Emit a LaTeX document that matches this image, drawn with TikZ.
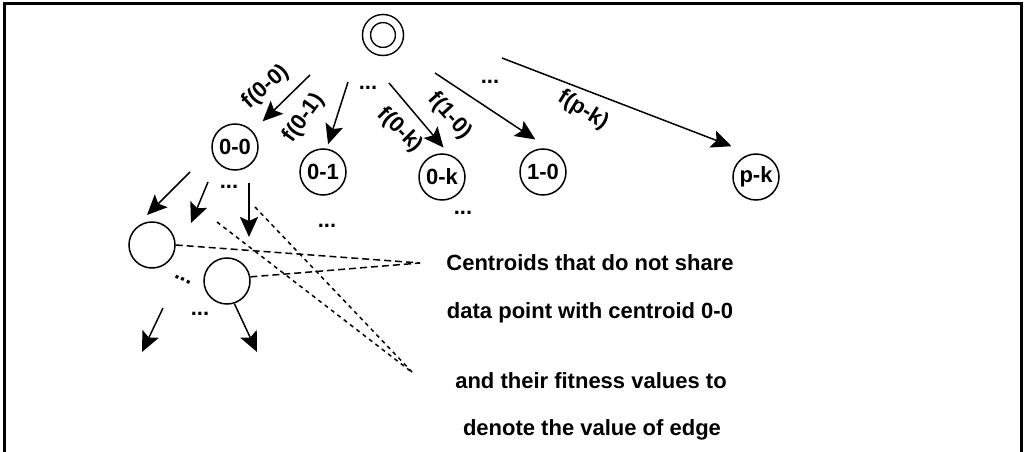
\documentclass[tikz,border=0pt]{standalone}
\usepackage{fontspec}
\setmainfont{Liberation Sans}
\usetikzlibrary{arrows.meta,calc}
\usetikzlibrary{positioning}

\begin{document}
\begin{tikzpicture}[
    x=1pt, y=-1pt,
    font=\fontsize{22}{26}\selectfont\bfseries,
    centroide/.style={draw=black, circle, line width=1.5pt,
                      inner sep=0pt, minimum size=46pt},
    seta/.style={-{Stealth[length=20pt, width=18pt, inset=4pt]}, line width=1.5pt},
    rotulo/.style={inner sep=0pt, font=\fontsize{22}{26}\selectfont\bfseries},
    reticencias/.style={inner sep=0pt, anchor=base},
    tracejado/.style={line width=1.5pt, dash pattern=on 7pt off 4pt},
    pontilhado/.style={line width=1.5pt, dash pattern=on 4pt off 4pt},
    texto/.style={inner sep=0pt, anchor=base, font=\fontsize{22}{26}\selectfont\bfseries}
  ]

  \useasboundingbox (0,0) rectangle (1026,452);

  % ── moldura ──────────────────────────────────────────────────────
  \draw[line width=3pt] (4.5,452) -- (4.5,3.5) -- (1021,3.5) -- (1021,452);

  % ── raiz e primeiro nível ────────────────────────────────────────
  \node[centroide, double, double distance=6.5pt, minimum size=33pt] (raiz) at (383,35) {};

  \node[centroide] (c00) at (235,147) {0-0};
  \node[centroide] (c01) at (323,172) {0-1};
  \node[centroide] (c0k) at (442,177) {0-k};
  \node[centroide] (c10) at (543,172) {1-0};
  \node[centroide] (cpk) at (756,177) {p-k};

  % ── arestas com valor f(.) ───────────────────────────────────────
  \coordinate (t00) at (310,75);
  \coordinate (t01) at (348,82);
  \coordinate (t0k) at (389,83);
  \coordinate (t10) at (435,73);
  \coordinate (tpk) at (502,58);

  \draw[seta, shorten >=14pt] (t00) -- (c00.42);
  \draw[seta, shorten >=4.5pt] (t01) -- (c01.81);
  \draw[seta, shorten >=9pt] (t0k) -- (c0k.72);
  \draw[seta, shorten >=18pt] (t10) -- (c10.72);
  \draw[seta, shorten >=21pt] (tpk) -- (cpk.102);

  \node[rotulo, rotate=42]  (f00) at (266,87)  {f(0-0)};
  \node[rotulo, rotate=54]  (f01) at (304,118) {f(0-1)};
  \node[rotulo, rotate=-45] (f0k) at (400,130) {f(0-k)};
  \node[rotulo, rotate=-48] (f10) at (450,116) {f(1-0)};
  \node[rotulo, rotate=-32] (fpk) at (583,110) {f(p-k)};

  \node[reticencias] (r1) at (368,90)  {...};
  \node[reticencias] (r2) at (490,84)  {...};
  \node[reticencias] (r3) at (463,214) {...};
  \node[reticencias] (r4) at (327,227) {...};
  \node[reticencias] (r5) at (229,188) {...};
  \node[reticencias] (r6) at (200,315) {...};
  \node[reticencias, rotate=-25] (r7) at (182,281) {...};

  % ── filhos de 0-0 ────────────────────────────────────────────────
  \node[centroide] (cA) at (152,245) {};
  \node[centroide] (cB) at (227,281) {};

  \coordinate (s1) at (190,172);  \coordinate (e1) at (147,215);
  \coordinate (s2) at (208,182);  \coordinate (e2) at (191,223);
  \coordinate (s3) at (249,183);  \coordinate (e3) at (249,237);
  \coordinate (s4) at (163,308);  \coordinate (e4) at (142,352);
  \coordinate (e5) at (257,352);

  \draw[seta] (s1) -- (e1);
  \draw[seta] (s2) -- (e2);
  \draw[seta, line width=2.4pt] (s3) -- (e3);
  \draw[seta] (s4) -- (e4);
  \draw[seta] (cB.-72) -- (e5);

  % ── linhas tracejadas até o texto ────────────────────────────────
  \coordinate (pa) at (420,263);
  \coordinate (pb) at (413,373);
  \coordinate (s6) at (255,207);
  \coordinate (s7) at (217,222);

  \draw[tracejado] (cA.east) -- (pa);
  \draw[tracejado] (cB.10) -- (pa);
  \draw[pontilhado] (s6) -- (pb);
  \draw[pontilhado] (s7) -- (pb);

  % ── texto explicativo ────────────────────────────────────────────
  \node[texto] (ta) at (590,270) {Centroids that do not share};
  \node[texto] (tb) at (590,318) {data point with centroid 0-0};
  \node[texto] (tc) at (591,388) {and their fitness values to};
  \node[texto] (td) at (592,435) {denote the value of edge};

\end{tikzpicture}
\end{document}
